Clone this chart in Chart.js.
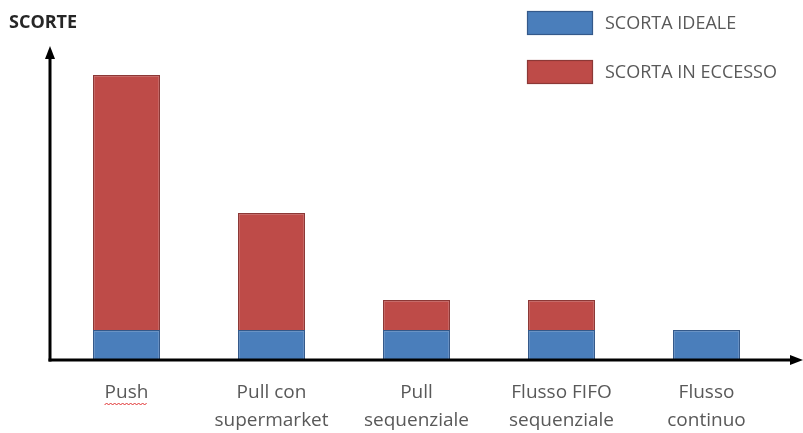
<!DOCTYPE html>
<html>
<head>
<meta charset="utf-8">
<script src="https://cdn.jsdelivr.net/npm/chart.js@4.4.1/dist/chart.umd.min.js"></script>
<style>
  html, body { margin: 0; padding: 0; background: #ffffff; }
  #wrap { width: 803px; height: 433px; position: relative; }
</style>
</head>
<body>
<div id="wrap"><canvas id="c" width="803" height="433"></canvas></div>
<script>
// Categories (two-line tick labels)
const categories = [
  ['Push'],
  ['Pull con', 'supermarket'],
  ['Pull', 'sequenziale'],
  ['Flusso FIFO', 'sequenziale'],
  ['Flusso', 'continuo']
];
// Stock levels per flow type
const scortaIdeale = [1, 1, 1, 1, 1];
const scortaEccesso = [8.5, 3.9, 1, 1, 0];
const seriesNames = ['SCORTA IDEALE', 'SCORTA IN ECCESSO'];
const axisTitle = 'SCORTE';

const FONT = '"Open Sans", "DejaVu Sans", sans-serif';
const TEXT = '#595959';

// Axes with arrow heads, title, legend boxes and the spell-check squiggle
const decorPlugin = {
  id: 'decor',
  afterDraw(chart) {
    const ctx = chart.ctx;
    const a = chart.chartArea;
    const ax = a.left - 4;
    const by = a.bottom;
    ctx.save();
    ctx.strokeStyle = '#000';
    ctx.fillStyle = '#000';
    ctx.lineWidth = 3;
    // y axis
    ctx.beginPath();
    ctx.moveTo(ax, by + 1.5);
    ctx.lineTo(ax, 56);
    ctx.stroke();
    ctx.beginPath();
    ctx.moveTo(ax, 46);
    ctx.lineTo(ax - 5, 59);
    ctx.lineTo(ax + 5, 59);
    ctx.closePath();
    ctx.fill();
    // x axis
    ctx.beginPath();
    ctx.moveTo(ax - 1.5, by);
    ctx.lineTo(792, by);
    ctx.stroke();
    ctx.beginPath();
    ctx.moveTo(803, by);
    ctx.lineTo(790, by - 5);
    ctx.lineTo(790, by + 5);
    ctx.closePath();
    ctx.fill();

    // axis title
    ctx.fillStyle = '#262626';
    ctx.font = 'bold 18px ' + FONT;
    ctx.textBaseline = 'middle';
    ctx.textAlign = 'left';
    ctx.fillText(axisTitle, 9, 23);

    // legend
    const ds = chart.data.datasets;
    const rows = [23, 72];
    ds.forEach((d, i) => {
      const cy = rows[i];
      ctx.fillStyle = d.backgroundColor;
      ctx.strokeStyle = d.borderColor;
      ctx.lineWidth = 1.2;
      ctx.fillRect(527, cy - 12, 66, 24);
      ctx.strokeRect(527.5, cy - 11.5, 65, 23);
      ctx.fillStyle = TEXT;
      ctx.font = '18px ' + FONT;
      ctx.fillText(d.label, 605, cy + 1);
    });

    // red squiggle under the first category label
    const xs = chart.scales.x;
    const cx = xs.getPixelForTick(0);
    ctx.font = '19px ' + FONT;
    const w = ctx.measureText(categories[0][0]).width;
    ctx.strokeStyle = '#e03030';
    ctx.lineWidth = 1;
    ctx.beginPath();
    const y0 = by + 44;
    for (let x = cx - w / 2, k = 0; x <= cx + w / 2; x += 2, k++) {
      const y = y0 + (k % 2 ? -1 : 1);
      if (k === 0) ctx.moveTo(x, y); else ctx.lineTo(x, y);
    }
    ctx.stroke();
    ctx.restore();
  }
};

new Chart(document.getElementById('c'), {
  type: 'bar',
  data: {
    labels: categories,
    datasets: [
      {
        label: seriesNames[0],
        data: scortaIdeale,
        backgroundColor: '#4a7ebb',
        borderColor: '#34598a',
        borderWidth: 1.2
      },
      {
        label: seriesNames[1],
        data: scortaEccesso,
        backgroundColor: '#be4b48',
        borderColor: '#8c3836',
        borderWidth: 1.2
      }
    ]
  },
  options: {
    responsive: false,
    animation: false,
    devicePixelRatio: 1,
    layout: { padding: { left: 54, right: 24, top: 60, bottom: 0 } },
    plugins: {
      legend: { display: false },
      tooltip: { enabled: false },
      title: { display: false }
    },
    datasets: {
      bar: { categoryPercentage: 1, barPercentage: 0.462 }
    },
    scales: {
      x: {
        stacked: true,
        grid: { display: false, drawTicks: false },
        border: { display: false },
        afterFit(scale) { scale.height = 73; },
        ticks: {
          color: TEXT,
          font: { family: FONT, size: 19, lineHeight: 1.5 },
          padding: 18,
          maxRotation: 0,
          autoSkip: false
        }
      },
      y: {
        stacked: true,
        display: false,
        min: 0,
        max: 10
      }
    }
  },
  plugins: [decorPlugin]
});
</script>
</body>
</html>
